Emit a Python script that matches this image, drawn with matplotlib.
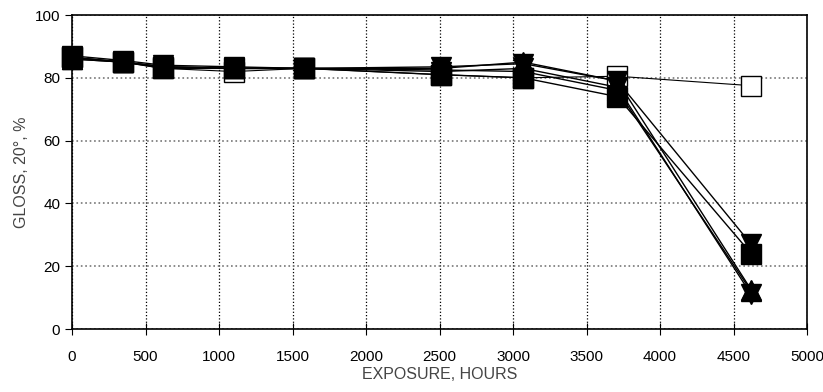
import matplotlib.pyplot as plt

plt.rcParams['font.family'] = ['Liberation Sans', 'DejaVu Sans']

hours = [0, 350, 620, 1100, 1580, 2510, 3070, 3710, 4620]

open_sq = [86.5, 85, 83, 82, 83, 81, 80, 80.5, 77.5]
filled_sq = [86.5, 85, 83.5, 83, 83, 81, 80, 74, 24]
tri_down_a = [87, 85.5, 84, 83.5, 83, 83.5, 84.5, 79, 27]
tri_up_a = [86, 85, 83.5, 83, 83, 83, 85, 79, 12.5]
tri_down_b = [86.5, 85, 83.5, 83, 83, 82, 83, 77, 11]
tri_up_b = [86, 85, 83, 83, 83, 82.5, 82, 76, 12]

fig = plt.figure(figsize=(8.23, 3.92), dpi=100)
ax = fig.add_axes([0.0875, 0.1607, 0.8931, 0.801])

ax.xaxis.grid(True, linestyle=':', color='black', linewidth=0.9)
ax.yaxis.grid(True, linestyle=':', color='#777777', linewidth=1.2)
ax.set_axisbelow(True)

kw = dict(color='black', lw=1, mfc='black', mec='black', clip_on=False)
ax.plot(hours, open_sq, color='black', lw=0.8, marker='s', ms=15, mfc='white', mec='black', mew=1, clip_on=False)
ax.plot(hours, tri_down_b, marker='v', ms=14, **kw)
ax.plot(hours, tri_up_b, marker='^', ms=14, **kw)
ax.plot(hours, tri_up_a, marker='^', ms=14, **kw)
ax.plot(hours, tri_down_a, marker='v', ms=14, **kw)
ax.plot(hours, filled_sq, marker='s', ms=15, **kw)

ax.set_xlim(0, 5000)
ax.set_ylim(0, 100)
ax.set_xticks(range(0, 5001, 500))
ax.set_yticks(range(0, 101, 20))
ax.tick_params(axis='x', direction='inout', length=8, labelsize=11, pad=11)
ax.tick_params(axis='y', direction='out', length=5, labelsize=11)
for s in ax.spines.values():
    s.set_linewidth(1.2)

ax.set_xlabel('EXPOSURE, HOURS', fontsize=11.5, color='#444444', labelpad=2)
ax.set_ylabel('GLOSS, 20°, %', fontsize=11.5, color='#444444')

fig.savefig('out.png', dpi=100)
